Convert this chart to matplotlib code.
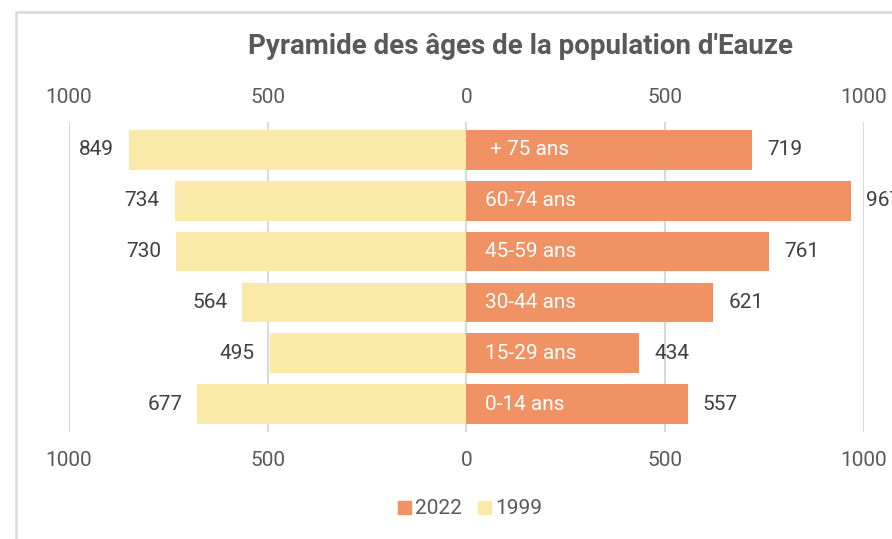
import matplotlib.pyplot as plt
import matplotlib.patches as patches
import matplotlib.transforms as mtransforms

# Données
categories = ['0-14 ans', '15-29 ans', '30-44 ans', '45-59 ans', '60-74 ans', ' + 75 ans']
pop_1999 = [677, 495, 564, 730, 734, 849]
pop_2022 = [557, 434, 621, 761, 967, 719]
ticks = [-1000, -500, 0, 500, 1000]
tick_labels = ['1000', '500', '0', '500', '1000']

c_2022 = '#F09263'
c_1999 = '#FAE9A9'
gris = '#595959'
texte = '#404040'

W, H = 892, 539
fig = plt.figure(figsize=(W / 100, H / 100), dpi=100)

# cadre du graphique
fig.patches.append(patches.Rectangle((16 / W, -0.1), 2, 1 - 12 / H + 0.1, transform=fig.transFigure,
                                     facecolor='none', edgecolor='#D9D9D9', linewidth=1.8))

ax = fig.add_axes([69 / W, 1 - 432 / H, (864 - 69) / W, (432 - 122) / H])

y = range(len(categories))
ax.barh(y, [-v for v in pop_1999], height=0.78, color=c_1999, zorder=2)
ax.barh(y, pop_2022, height=0.78, color=c_2022, zorder=2)

ax.set_xlim(-1000, 1000)
ax.set_ylim(-0.55, 5.55)

for x in ticks:
    ax.axvline(x, color='#D9D9D9', linewidth=1.5, zorder=1)

# étiquettes
px = 2000 / (864 - 69)
for i, (a, b, cat) in enumerate(zip(pop_1999, pop_2022, categories)):
    ax.text(-a - 15 * px, i, str(a), ha='right', va='center', fontsize=15,
            family='Roboto', color=texte, clip_on=False)
    ax.text(b + 15 * px, i, str(b), ha='left', va='center', fontsize=15,
            family='Roboto', color=texte, clip_on=False)
    ax.text(19 * px, i, cat, ha='left', va='center', fontsize=15,
            family='Roboto', color='white', zorder=3)

ax.set_xticks(ticks)
ax.set_xticklabels(tick_labels)
ax.tick_params(axis='x', length=0, labeltop=True, labelbottom=True, labelsize=15,
               labelcolor=gris, pad=14)
off = mtransforms.ScaledTranslation(0, -4 / 100, fig.dpi_scale_trans)
for t in ax.xaxis.get_major_ticks():
    for lab in (t.label1, t.label2):
        lab.set_family('Roboto')
    t.label2.set_transform(t.label2.get_transform() + off)
ax.set_yticks([])
for s in ax.spines.values():
    s.set_visible(False)

fig.text(520 / W, 1 - 46 / H, "Pyramide des âges de la population d'Eauze", ha='center', va='center',
         fontsize=20, fontweight='bold', family='Roboto', color=gris)

handles = [patches.Patch(color=c_2022, label='2022'), patches.Patch(color=c_1999, label='1999')]
fig.legend(handles=handles, loc='center', bbox_to_anchor=(470 / W, 1 - 509 / H), ncol=2, frameon=False,
           prop={'family': 'Roboto', 'size': 15}, labelcolor=gris,
           handlelength=0.6, handleheight=0.6, handletextpad=0.2, columnspacing=0.8)

fig.savefig('out.png', dpi=100)
